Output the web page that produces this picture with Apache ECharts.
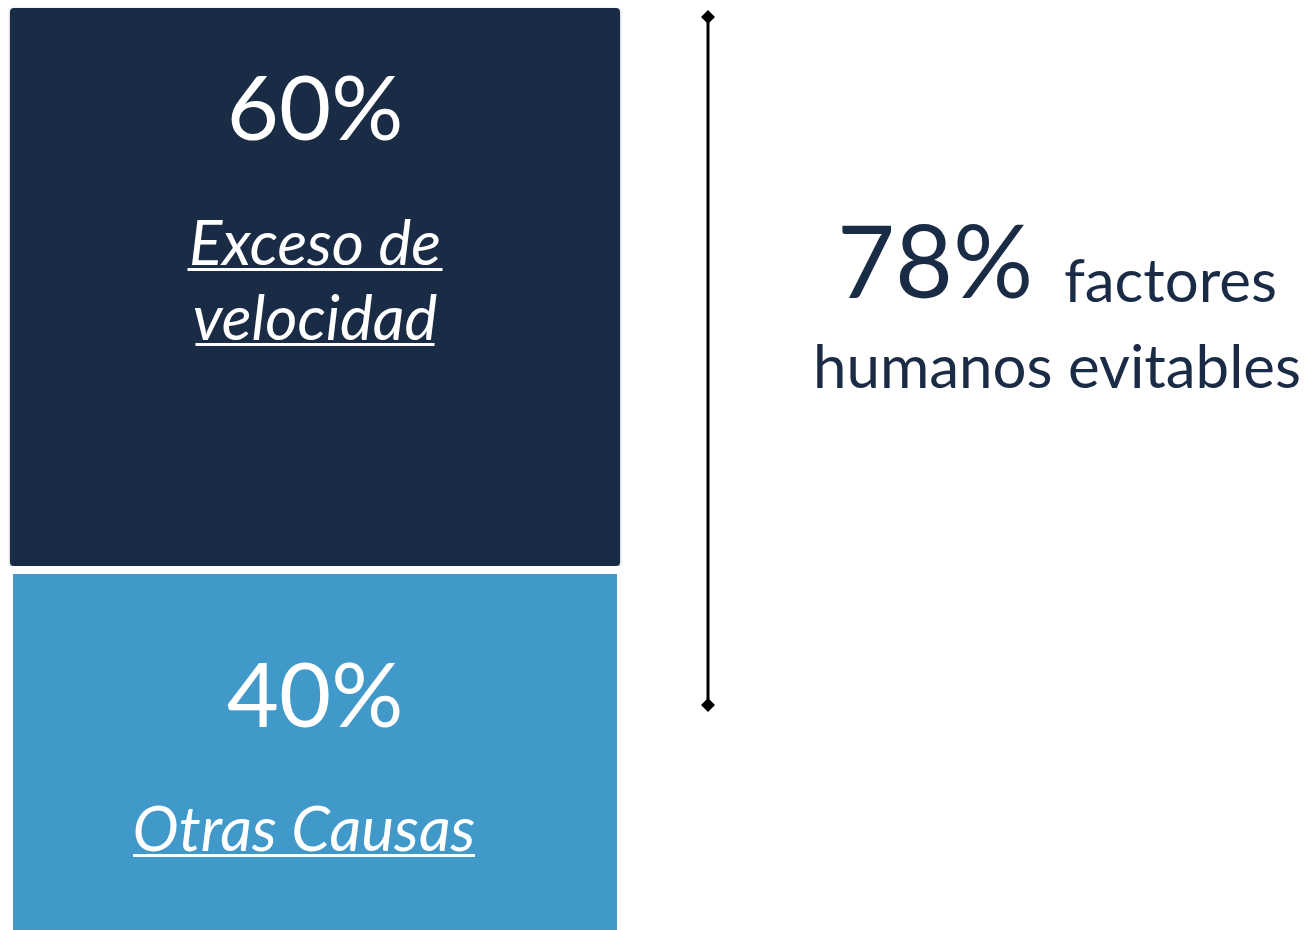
<!DOCTYPE html>
<html>
<head>
<meta charset="utf-8">
<title>Causas</title>
<script src="https://cdn.jsdelivr.net/npm/echarts@6/dist/echarts.min.js"></script>
<style>
  html, body { margin: 0; padding: 0; background: #fff; }
  #chart { width: 1309px; height: 930px; }
</style>
</head>
<body>
<div id="chart"></div>
<script>
// datos
const categories = ['Causas'];
const velocidad = [60];      // Exceso de velocidad
const otras = [40];          // Otras Causas
const bracketValues = [0, 78]; // factores humanos evitables
const labels = {
  velocidad: ['Exceso de', 'velocidad'],
  otras: ['Otras Causas'],
  total: '78%',
  totalText: ['factores', 'humanos evitables']
};

const navy = '#1a2b45';
const blue = '#4199c9';
const font = 'Lato';

const chart = echarts.init(document.getElementById('chart'));

// estilos de texto comunes para las etiquetas de las barras
const richBar = {
  pct: { fontFamily: font, fontSize: 90, color: '#fff', lineHeight: 100 },
  sub: { fontFamily: font, fontSize: 62, fontStyle: 'italic', color: '#fff', lineHeight: 46 },
  sub3: { fontFamily: font, fontSize: 62, fontStyle: 'italic', color: '#fff', lineHeight: 46, padding: [0, 22, 0, 0] },
  u1: { width: 255, height: 3, lineHeight: 3, fontSize: 1, backgroundColor: '#fff' },
  u2: { width: 239, height: 3, lineHeight: 3, fontSize: 1, backgroundColor: '#fff' },
  u3: { width: 342, height: 3, lineHeight: 3, fontSize: 1, backgroundColor: '#fff' },
  pad3: { width: 22, height: 3, lineHeight: 3, fontSize: 1 },
  sp61: { fontSize: 1, lineHeight: 61 },
  sp26: { fontSize: 1, lineHeight: 26 },
  sp60: { fontSize: 1, lineHeight: 60 }
};

chart.setOption({
  animation: false,
  // grid 0: barra oscura, grid 1: barra clara (borde blanco = separación), grid 2: corchete
  grid: [
    { left: 10, top: 8, width: 610, height: 930, outerBoundsMode: 'none' },
    { left: 5, top: 8, width: 620, height: 930, outerBoundsMode: 'none' },
    { left: 700, top: 17, width: 16, height: 688, outerBoundsMode: 'none' }
  ],
  xAxis: [
    { type: 'category', data: categories, show: false, gridIndex: 0 },
    { type: 'category', data: categories, show: false, gridIndex: 1 },
    { type: 'value', min: 0, max: 1, show: false, gridIndex: 2 }
  ],
  yAxis: [
    { type: 'value', min: 0, max: 100, show: false, gridIndex: 0 },
    { type: 'value', min: 0, max: 100, show: false, gridIndex: 1 },
    { type: 'value', min: 0, max: 78, show: false, gridIndex: 2 }
  ],
  title: {
    left: 1052,
    top: 206,
    textAlign: 'center',
    text: '{big|' + labels.total + '}{mid|  ' + labels.totalText[0] + '}\n{mid2|' + labels.totalText[1] + '}',
    textStyle: {
      fontWeight: 'normal',
      rich: {
        big: { fontFamily: font, fontSize: 100, fontWeight: 'normal', color: navy, lineHeight: 110 },
        mid: { fontFamily: font, fontSize: 60, fontWeight: 'normal', color: navy, lineHeight: 110, padding: [34, 0, 0, 0] },
        mid2: { fontFamily: font, fontSize: 60, fontWeight: 'normal', color: navy, lineHeight: 96 }
      }
    }
  },
  series: [
    {
      // base invisible para apilar la barra oscura encima de la clara
      type: 'bar',
      stack: 'total',
      barWidth: '100%',
      xAxisIndex: 0,
      yAxisIndex: 0,
      data: otras,
      itemStyle: { color: 'transparent' },
      silent: true
    },
    {
      name: 'Exceso de velocidad',
      type: 'bar',
      stack: 'total',
      barWidth: '100%',
      xAxisIndex: 0,
      yAxisIndex: 0,
      data: velocidad,
      itemStyle: {
        color: navy,
        borderRadius: 4,
        shadowColor: 'rgba(0,0,0,0.35)',
        shadowBlur: 3,
        shadowOffsetY: 1
      },
      label: {
        show: true,
        position: 'insideTop',
        distance: 53,
        formatter: function (p) {
          return '{pct|' + p.value + '%}\n{sp61| }\n{sub|' + labels.velocidad[0] + '}\n{u1| }\n{sp26| }\n{sub|' + labels.velocidad[1] + '}\n{u2| }';
        },
        rich: richBar
      }
    },
    {
      name: 'Otras Causas',
      type: 'bar',
      barWidth: '100%',
      xAxisIndex: 1,
      yAxisIndex: 1,
      z: 3,
      data: otras,
      itemStyle: { color: blue, borderColor: '#fff', borderWidth: 8 },
      label: {
        show: true,
        position: 'insideTop',
        distance: 82,
        formatter: function (p) {
          return '{pct|' + p.value + '%}\n{sp60| }\n{sub3|' + labels.otras[0] + '}\n{u3| }{pad3| }';
        },
        rich: richBar
      }
    },
    {
      // corchete de 78%
      type: 'line',
      xAxisIndex: 2,
      yAxisIndex: 2,
      data: bracketValues.map(v => [0.5, v]),
      symbol: 'diamond',
      symbolSize: 14,
      showSymbol: true,
      itemStyle: { color: '#000' },
      lineStyle: { color: '#000', width: 3 }
    }
  ]
});
</script>
</body>
</html>
